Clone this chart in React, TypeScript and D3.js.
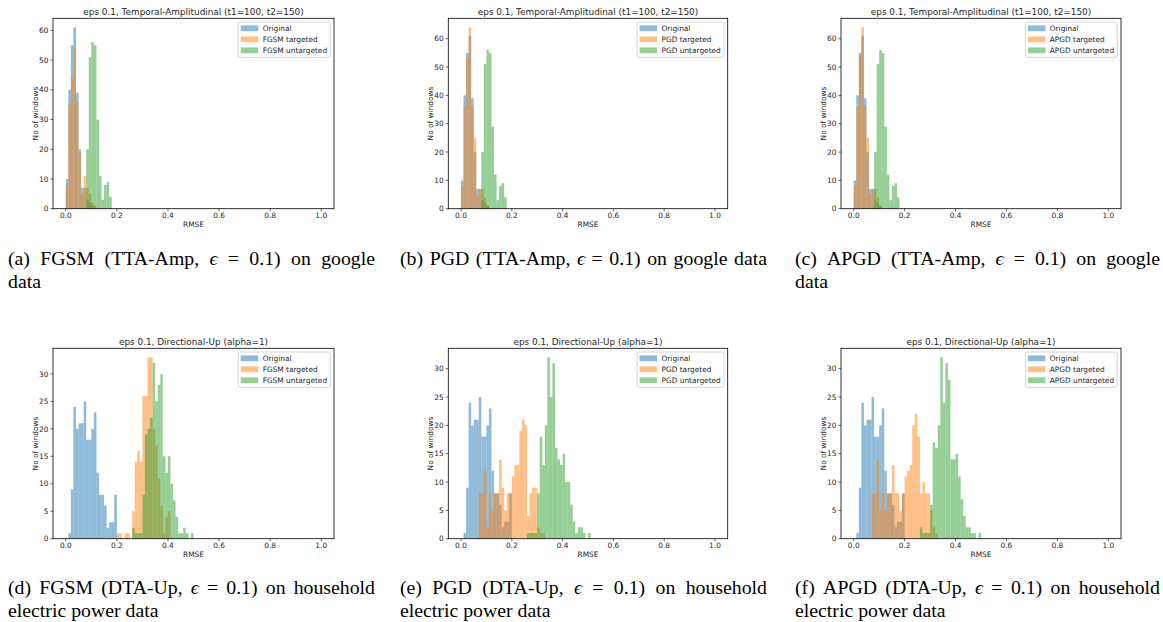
import React from 'react';
import * as d3 from 'd3';

// ---------- data ----------
const BIN_WIDTH = 0.01;
const xTicks = [0, 0.2, 0.4, 0.6, 0.8, 1.0];
const yTicksGoogle = [0, 10, 20, 30, 40, 50, 60];
const yTicksHousehold = [0, 5, 10, 15, 20, 25, 30];

const titleGoogle = 'eps 0.1, Temporal-Amplitudinal (t1=100, t2=150)';
const titleHousehold = 'eps 0.1, Directional-Up (alpha=1)';
const xLabel = 'RMSE';
const yLabel = 'No of windows';

// counts per 0.01-wide bin, starting at RMSE 0.00
const googleOriginal = [10, 40, 55, 61, 39, 20, 7, 7, 3, 2, 1];
const googleFgsmTargeted = [8, 35, 44, 54, 36, 19, 5, 11, 7, 5, 2, 1];
const googleFgsmUntargeted = [0, 0, 0, 0, 0, 0, 0, 0, 20, 51, 56, 55, 30, 11, 3, 8, 9, 4];
const googlePgdTargeted = [8, 36, 53, 64, 36, 25, 5, 7, 7, 4, 1];
const googlePgdUntargeted = [0, 0, 0, 0, 0, 0, 0, 0, 20, 51, 56, 55, 29, 12, 3, 8, 9, 4];
const googleApgdTargeted = [8, 36, 54, 64, 36, 25, 5, 7, 7, 4, 1];
const googleApgdUntargeted = [0, 0, 0, 0, 0, 0, 0, 0, 20, 51, 56, 55, 29, 12, 3, 8, 9, 4];

const householdOriginal = [0, 1, 9, 24, 20, 21, 21, 25, 18, 18, 20, 23, 12, 8, 8, 6, 2, 3, 3, 8];
const householdFgsmTargeted = [
  0, 0, 0, 0, 0, 0, 0, 0, 0, 0,
  0, 0, 0, 0, 0, 0, 0, 0, 0, 0,
  1, 1, 0, 1, 1, 0, 5, 14, 16, 14,
  26, 26, 33, 33, 20, 17, 11, 6, 1, 4,
  5,
];
const householdFgsmUntargeted = [
  0, 0, 0, 0, 0, 0, 0, 0, 0, 0,
  0, 0, 0, 0, 0, 0, 0, 0, 0, 0,
  0, 0, 0, 0, 0, 0, 2, 1, 1, 1,
  8, 19, 20, 22, 32, 25, 28, 30, 15, 12,
  15, 10, 7, 4, 1, 1, 2, 1, 0, 1,
];
const householdPgdTargeted = [
  0, 0, 0, 0, 0, 0, 0, 8, 8, 12,
  2, 8, 5, 8, 8, 14, 9, 5, 8, 8,
  11, 13, 13, 19, 21, 20, 4, 8, 9, 9,
  2, 1, 1,
];
const householdPgdUntargeted = [
  0, 0, 0, 0, 0, 0, 0, 0, 0, 0,
  0, 0, 0, 0, 0, 0, 0, 0, 0, 0,
  0, 0, 0, 0, 0, 0, 1, 1, 1, 1,
  8, 18, 13, 20, 32, 25, 31, 16, 14, 13,
  15, 10, 10, 6, 3, 1, 2, 2, 1, 0,
  1,
];
const householdApgdTargeted = [
  0, 0, 0, 0, 0, 0, 0, 8, 8, 14,
  5, 8, 5, 8, 8, 13, 8, 8, 5, 8,
  11, 12, 13, 20, 22, 18, 8, 10, 8, 8,
  5, 2, 1,
];
const householdApgdUntargeted = [
  0, 0, 0, 0, 0, 0, 0, 0, 0, 0,
  0, 0, 0, 0, 0, 0, 0, 0, 0, 0,
  0, 0, 0, 0, 0, 0, 2, 1, 1, 1,
  6, 17, 16, 20, 32, 24, 31, 28, 14, 14,
  15, 11, 7, 4, 2, 2, 1, 1, 0, 1,
];

const captionA = ['(a)', 'FGSM', '(TTA-Amp,', 'ϵ', '=', '0.1)', 'on', 'google'];
const captionB = ['(b)', 'PGD', '(TTA-Amp,', 'ϵ', '=', '0.1)', 'on', 'google', 'data'];
const captionC = ['(c)', 'APGD', '(TTA-Amp,', 'ϵ', '=', '0.1)', 'on', 'google'];
const captionD = ['(d)', 'FGSM', '(DTA-Up,', 'ϵ', '=', '0.1)', 'on', 'household'];
const captionE = ['(e)', 'PGD', '(DTA-Up,', 'ϵ', '=', '0.1)', 'on', 'household'];
const captionF = ['(f)', 'APGD', '(DTA-Up,', 'ϵ', '=', '0.1)', 'on', 'household'];
const captionGoogleTail = 'data';
const captionHouseholdTail = 'electric power data';

// ---------- styling ----------
const BLUE = '#1f77b4';
const ORANGE = '#ff7f0e';
const GREEN = '#2ca02c';
const SANS = '"DejaVu Sans", sans-serif';
const SERIF = '"Liberation Serif", "Times New Roman", "DejaVu Serif", serif';
const FS = 7.4;
const TITLE_FS = 8.9;
const CAP_FS = 19.8;

const measureCanvas = typeof document !== 'undefined' ? document.createElement('canvas') : null;
function textWidth(text: string, font: string): number {
  const ctx = measureCanvas ? measureCanvas.getContext('2d') : null;
  if (!ctx) return text.length * 5;
  ctx.font = font;
  return ctx.measureText(text).width;
}

type Series = { label: string; counts: number[]; color: string };

type PanelProps = {
  x0: number; x1: number; y0: number; y1: number;
  title: string; series: Series[]; yTicks: number[];
};

function Panel({ x0, x1, y0, y1, title, series, yTicks }: PanelProps) {
  const maxCount = d3.max(series, (s) => d3.max(s.counts) as number) as number;
  const x = d3.scaleLinear().domain([-0.05, 1.05]).range([x0, x1]);
  const y = d3.scaleLinear().domain([0, maxCount * 1.05]).range([y1, y0]);
  const fmt = d3.format('.1f');

  const legendFont = `${FS}px ${SANS}`;
  const maxText = d3.max(series, (s) => textWidth(s.label, legendFont)) as number;
  const lw = 24.4 + maxText + 3.2;
  const lh = 35.3;
  const lx = x1 - 3.7 - lw;
  const ly = y0 + 3.7;

  return (
    <g>
      {series.map((s, si) => (
        <g key={si} fill={s.color} fillOpacity={0.5}>
          {s.counts.map((c, i) =>
            c > 0 ? (
              <rect
                key={i}
                x={x(i * BIN_WIDTH)}
                width={x((i + 1) * BIN_WIDTH) - x(i * BIN_WIDTH)}
                y={y(c)}
                height={y(0) - y(c)}
              />
            ) : null
          )}
        </g>
      ))}
      <rect x={x0} y={y0} width={x1 - x0} height={y1 - y0} fill="none" stroke="#000" strokeWidth={0.8} />
      {xTicks.map((t) => (
        <g key={t}>
          <line x1={x(t)} x2={x(t)} y1={y1} y2={y1 + 2.6} stroke="#000" strokeWidth={0.6} />
          <text x={x(t)} y={y1 + 9.2} textAnchor="middle" fontFamily={SANS} fontSize={FS} fill="#262626">
            {fmt(t)}
          </text>
        </g>
      ))}
      {yTicks.map((t) => (
        <g key={t}>
          <line x1={x0 - 2.6} x2={x0} y1={y(t)} y2={y(t)} stroke="#000" strokeWidth={0.6} />
          <text x={x0 - 4.6} y={y(t) + 2.7} textAnchor="end" fontFamily={SANS} fontSize={FS} fill="#262626">
            {t}
          </text>
        </g>
      ))}
      <text x={(x0 + x1) / 2} y={y1 + 18.2} textAnchor="middle" fontFamily={SANS} fontSize={FS} fill="#262626">
        {xLabel}
      </text>
      <text
        transform={`translate(${x0 - 15.2},${(y0 + y1) / 2}) rotate(-90)`}
        textAnchor="middle"
        fontFamily={SANS}
        fontSize={FS}
        fill="#262626"
      >
        {yLabel}
      </text>
      <text x={(x0 + x1) / 2} y={y0 - 3} textAnchor="middle" fontFamily={SANS} fontSize={TITLE_FS} fill="#262626">
        {title}
      </text>
      <g>
        <rect x={lx} y={ly} width={lw} height={lh} rx={2} fill="#fff" fillOpacity={0.8} stroke="#cccccc" strokeWidth={0.8} />
        {series.map((s, i) => {
          const cy = ly + 6.3 + i * 11;
          return (
            <g key={i}>
              <rect x={lx + 2.5} y={cy - 2.9} width={17.5} height={5.8} fill={s.color} fillOpacity={0.5} />
              <text x={lx + 24.4} y={cy + 2.7} fontFamily={SANS} fontSize={FS} fill="#262626">
                {s.label}
              </text>
            </g>
          );
        })}
      </g>
    </g>
  );
}

function Caption({ x, y, width, words, tail }: { x: number; y: number; width: number; words: string[]; tail?: string }) {
  const normal = `${CAP_FS}px ${SERIF}`;
  const italic = `italic ${CAP_FS}px ${SERIF}`;
  const widths = words.map((w) => textWidth(w, w === 'ϵ' ? italic : normal));
  const gap = (width - (d3.sum(widths) as number)) / (words.length - 1);
  let cursor = x;
  const xs = widths.map((w) => {
    const p = cursor;
    cursor += w + gap;
    return p;
  });
  return (
    <g fontFamily={SERIF} fontSize={CAP_FS} fill="#000">
      {words.map((w, i) => (
        <text key={i} x={xs[i]} y={y} fontStyle={w === 'ϵ' ? 'italic' : 'normal'}>
          {w}
        </text>
      ))}
      {tail ? (
        <text x={x} y={y + 23}>
          {tail}
        </text>
      ) : null}
    </g>
  );
}

const columns = [
  { x0: 53, x1: 334 },
  { x0: 448.3, x1: 727.7 },
  { x0: 841, x1: 1121 },
];
const rows = [
  { y0: 18.3, y1: 208.7 },
  { y0: 348.3, y1: 538.7 },
];

export default function App() {
  const topSeries: Series[][] = [
    [
      { label: 'Original', counts: googleOriginal, color: BLUE },
      { label: 'FGSM targeted', counts: googleFgsmTargeted, color: ORANGE },
      { label: 'FGSM untargeted', counts: googleFgsmUntargeted, color: GREEN },
    ],
    [
      { label: 'Original', counts: googleOriginal, color: BLUE },
      { label: 'PGD targeted', counts: googlePgdTargeted, color: ORANGE },
      { label: 'PGD untargeted', counts: googlePgdUntargeted, color: GREEN },
    ],
    [
      { label: 'Original', counts: googleOriginal, color: BLUE },
      { label: 'APGD targeted', counts: googleApgdTargeted, color: ORANGE },
      { label: 'APGD untargeted', counts: googleApgdUntargeted, color: GREEN },
    ],
  ];
  const bottomSeries: Series[][] = [
    [
      { label: 'Original', counts: householdOriginal, color: BLUE },
      { label: 'FGSM targeted', counts: householdFgsmTargeted, color: ORANGE },
      { label: 'FGSM untargeted', counts: householdFgsmUntargeted, color: GREEN },
    ],
    [
      { label: 'Original', counts: householdOriginal, color: BLUE },
      { label: 'PGD targeted', counts: householdPgdTargeted, color: ORANGE },
      { label: 'PGD untargeted', counts: householdPgdUntargeted, color: GREEN },
    ],
    [
      { label: 'Original', counts: householdOriginal, color: BLUE },
      { label: 'APGD targeted', counts: householdApgdTargeted, color: ORANGE },
      { label: 'APGD untargeted', counts: householdApgdUntargeted, color: GREEN },
    ],
  ];
  const capX = [8, 400, 795];
  const capW = 367;
  return (
    <svg
      width={1163}
      height={622}
      viewBox="0 0 1163 622"
      style={{ position: 'absolute', left: 0, top: 0, display: 'block', background: '#fff' }}
    >
      <rect x={0} y={0} width={1163} height={622} fill="#fff" />
      {columns.map((c, i) => (
        <Panel key={'t' + i} {...c} {...rows[0]} title={titleGoogle} series={topSeries[i]} yTicks={yTicksGoogle} />
      ))}
      {columns.map((c, i) => (
        <Panel key={'b' + i} {...c} {...rows[1]} title={titleHousehold} series={bottomSeries[i]} yTicks={yTicksHousehold} />
      ))}
      <Caption x={capX[0]} y={265} width={capW} words={captionA} tail={captionGoogleTail} />
      <Caption x={capX[1]} y={265} width={capW} words={captionB} />
      <Caption x={capX[2]} y={265} width={capW - 2} words={captionC} tail={captionGoogleTail} />
      <Caption x={capX[0]} y={594} width={capW} words={captionD} tail={captionHouseholdTail} />
      <Caption x={capX[1]} y={594} width={capW} words={captionE} tail={captionHouseholdTail} />
      <Caption x={capX[2]} y={594} width={capW - 2} words={captionF} tail={captionHouseholdTail} />
    </svg>
  );
}
